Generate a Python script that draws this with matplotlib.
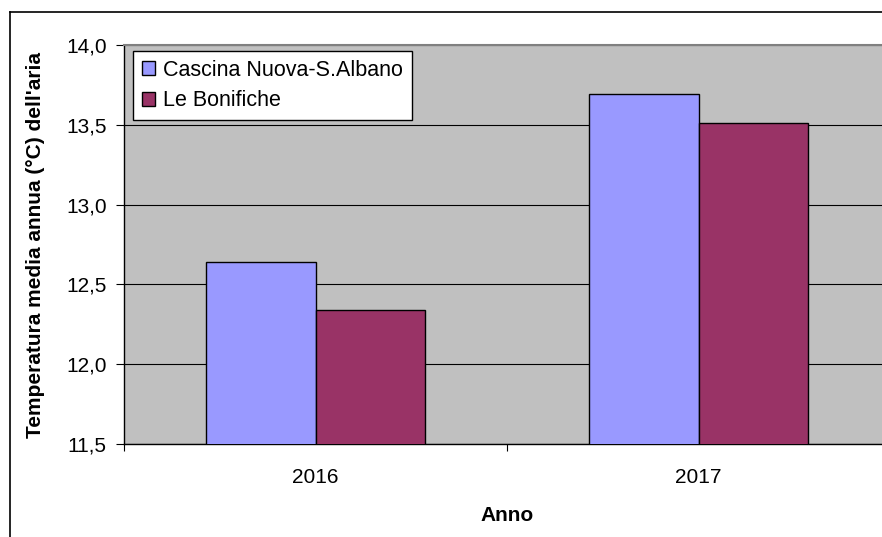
import matplotlib
matplotlib.use('Agg')
import matplotlib.pyplot as plt
import numpy as np
from matplotlib.lines import Line2D

# dati
anni = ['2016', '2017']
serie = ['Cascina Nuova-S.Albano', 'Le Bonifiche']
cascina = [12.64, 13.69]
bonifiche = [12.34, 13.51]
y_ticks = [11.5, 12.0, 12.5, 13.0, 13.5, 14.0]

colori = ['#9999FF', '#993366']
FS = 15

plt.rcParams['font.family'] = ['Liberation Sans', 'DejaVu Sans']

fig = plt.figure(figsize=(8.82, 5.37), dpi=100)
ax = fig.add_axes([124 / 882, 1 - 444 / 537, 766 / 882, 399 / 537])
ax.set_facecolor('#C0C0C0')

# cornice esterna (tagliata a destra e in basso)
fig.add_artist(Line2D([10 / 882, 1], [1 - 12 / 537, 1 - 12 / 537], color='black', lw=1.2,
                      transform=fig.transFigure))
fig.add_artist(Line2D([10 / 882, 10 / 882], [0, 1 - 12 / 537], color='black', lw=1.2,
                      transform=fig.transFigure))

x = np.arange(len(anni)) + 0.5
w = 0.287
ax.bar(x - w / 2, cascina, w, color=colori[0], edgecolor='black', linewidth=1,
       label=serie[0], zorder=3)
ax.bar(x + w / 2, bonifiche, w, color=colori[1], edgecolor='black', linewidth=1,
       label=serie[1], zorder=3)

ax.set_ylim(11.5, 14.0)
ax.set_xlim(0, 2)
ax.set_yticks(y_ticks)
ax.set_yticklabels([f'{v:.1f}'.replace('.', ',') for v in y_ticks], fontsize=FS)
ax.grid(axis='y', color='black', linewidth=0.8, zorder=1)

# tacche sui confini delle categorie, etichette al centro
ax.set_xticks([0, 1, 2])
ax.set_xticklabels(['', '', ''])
ax.set_xticks(x, minor=True)
ax.set_xticklabels(anni, minor=True, fontsize=FS)
ax.tick_params(axis='x', which='minor', length=0, pad=17)
ax.tick_params(axis='x', which='major', length=5, width=0.8, direction='out')
ax.tick_params(axis='y', length=6, width=0.8, direction='out', pad=6.5)

ax.spines['top'].set_color('#808080')
ax.spines['top'].set_linewidth(1.5)
ax.spines['right'].set_visible(False)
ax.spines['left'].set_linewidth(1)
ax.spines['bottom'].set_linewidth(1)

ax.set_ylabel("Temperatura media annua (°C) dell'aria", fontsize=FS, fontweight='bold',
              labelpad=15)
ax.set_xlabel('Anno', fontsize=FS, fontweight='bold', labelpad=14)

leg = ax.legend(loc='upper left', bbox_to_anchor=(0.012, 0.985), fontsize=15.5,
                frameon=True, fancybox=False, edgecolor='black', framealpha=1,
                handlelength=0.6, handleheight=0.6, handletextpad=0.4,
                borderpad=0.4, labelspacing=0.45, borderaxespad=0)
leg.get_frame().set_linewidth(1)

fig.savefig('out.png', dpi=100)
